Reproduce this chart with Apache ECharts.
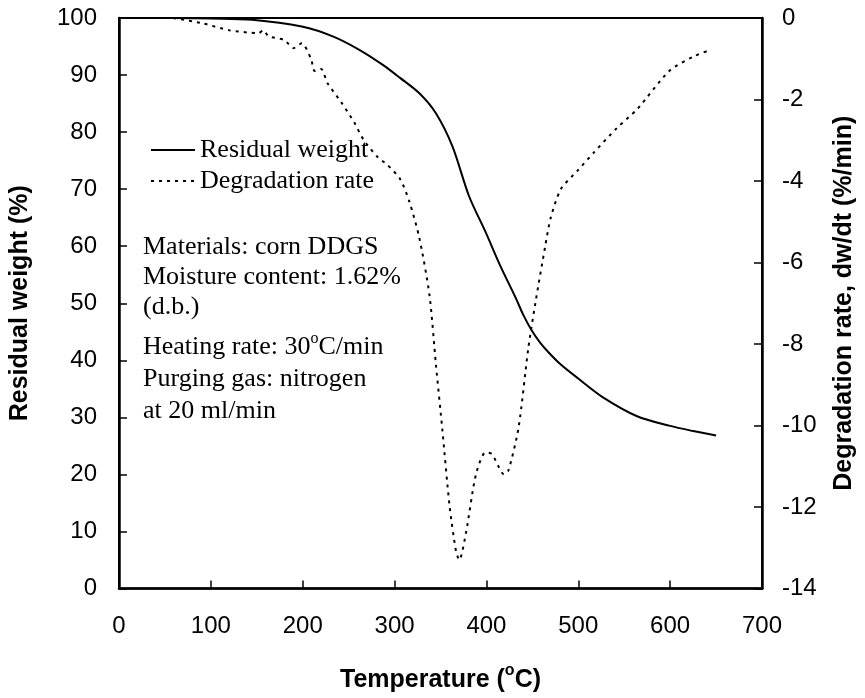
<!DOCTYPE html>
<html>
<head>
<meta charset="utf-8">
<script src="https://cdn.jsdelivr.net/npm/echarts@6/dist/echarts.min.js"></script>
<style>
  html, body { margin: 0; padding: 0; background: #fff; }
  #main { width: 865px; height: 698px; }
</style>
</head>
<body>
<div id="main"></div>
<script>
// residual weight curve (TGA)
const weightTemp = [56, 100, 145, 199, 234, 263, 288, 306, 327, 345, 363, 381, 399, 415, 432, 440, 449, 458, 467, 480, 500, 526, 564, 600, 625, 650];
const weightVal = [100, 99.9, 99.7, 98.5, 96.7, 94.3, 91.7, 89.5, 86.8, 83.3, 77.5, 68.8, 62.5, 56.6, 50.9, 48.0, 45.3, 43.2, 41.5, 39.4, 36.8, 33.6, 30.2, 28.5, 27.6, 26.8];

// degradation rate curve (DTG)
const rateTemp = [59, 91, 120, 152, 157, 163, 180, 190, 199, 209, 213, 220, 227, 242, 256, 266, 281, 292, 306, 316, 327, 338, 345, 352, 360, 367, 370.5, 378, 388.6, 399, 406, 413, 419, 424, 435, 445.6, 454, 464, 470, 481, 499, 517, 542, 564, 599, 625, 644];
const rateVal = [0, -0.13, -0.3, -0.37, -0.3, -0.45, -0.54, -0.74, -0.62, -1.0, -1.3, -1.25, -1.6, -2.07, -2.56, -2.98, -3.4, -3.6, -3.95, -4.5, -5.4, -6.8, -8.5, -10.1, -12, -13.1, -13.3, -12.6, -11.2, -10.66, -10.7, -11.0, -11.2, -11.1, -10.05, -8.1, -6.9, -5.6, -4.9, -4.2, -3.75, -3.3, -2.7, -2.24, -1.3, -0.95, -0.78];

const noteLines1 = ['Materials: corn DDGS', 'Moisture content: 1.62%', '(d.b.)'];
const noteLines2 = ['Heating rate: 30{sup|o}C/min', 'Purging gas: nitrogen', 'at 20 ml/min'];

const sans = 'Liberation Sans';
const serif = 'Liberation Serif';

const chart = echarts.init(document.getElementById('main'));

const axisCommon = {
  axisLine: { show: true, lineStyle: { color: '#000', width: 2.5 } },
  axisTick: { show: true, inside: true, length: 8, lineStyle: { color: '#000', width: 1.5 } },
  axisLabel: { color: '#000', fontFamily: sans, fontSize: 24 },
  splitLine: { show: false },
  nameTextStyle: { color: '#000', fontFamily: sans, fontSize: 25, fontWeight: 'bold' }
};

chart.setOption({
  animation: false,
  backgroundColor: '#fff',
  grid: { left: 115, right: 98, top: 18, bottom: 106, show: true, borderColor: '#000', borderWidth: 2 },
  legend: {
    orient: 'vertical',
    left: 150,
    top: 137,
    itemWidth: 44,
    itemHeight: 14,
    itemGap: 5,
    padding: 0,
    itemStyle: { color: 'rgba(0,0,0,0)', borderWidth: 0, opacity: 0 },
    textStyle: { color: '#000', fontFamily: serif, fontSize: 26, lineHeight: 26 },
    data: ['Residual weight', 'Degradation rate']
  },
  xAxis: Object.assign({}, axisCommon, {
    type: 'value', min: 0, max: 700, interval: 100,
    axisLabel: Object.assign({}, axisCommon.axisLabel, { margin: 26 }),
    name: 'Temperature ({sup|o}C)',
    nameLocation: 'middle',
    nameGap: 74,
    nameTextStyle: Object.assign({}, axisCommon.nameTextStyle, {
      rich: { sup: { fontFamily: sans, fontSize: 16, fontWeight: 'bold', padding: [0, 0, 20, 0] } }
    })
  }),
  yAxis: [
    Object.assign({}, axisCommon, {
      type: 'value', min: 0, max: 100, interval: 10, position: 'left',
      axisLabel: Object.assign({}, axisCommon.axisLabel, { margin: 22 }),
      name: 'Residual weight (%)', nameLocation: 'middle', nameGap: 86
    }),
    Object.assign({}, axisCommon, {
      type: 'value', min: -14, max: 0, interval: 2, position: 'right',
      axisLabel: Object.assign({}, axisCommon.axisLabel, { margin: 20 }),
      name: 'Degradation rate, dw/dt (%/min)', nameLocation: 'middle', nameGap: 70
    })
  ],
  graphic: [
    {
      type: 'text', left: 143, top: 232,
      style: { text: noteLines1.join('\n'), fill: '#000', font: '26px "Liberation Serif"', lineHeight: 30 }
    },
    {
      type: 'text', left: 143, top: 331,
      style: {
        text: noteLines2.join('\n'), fill: '#000', font: '26px "Liberation Serif"', lineHeight: 32,
        rich: { sup: { fontSize: 16, fontFamily: serif, verticalAlign: 'top', padding: [0, 0, 10, 0] } }
      }
    }
  ],
  series: [
    {
      name: 'Residual weight', type: 'line', yAxisIndex: 0, symbol: 'none', smooth: 0.3,
      lineStyle: { color: '#000', width: 2 }, itemStyle: { color: '#000' },
      data: weightTemp.map((t, i) => [t, weightVal[i]])
    },
    {
      name: 'Degradation rate', type: 'line', yAxisIndex: 1, symbol: 'none', smooth: 0.25,
      lineStyle: { color: '#000', width: 2, type: [3, 5] }, itemStyle: { color: '#000' },
      data: rateTemp.map((t, i) => [t, rateVal[i]])
    }
  ]
});
</script>
</body>
</html>
